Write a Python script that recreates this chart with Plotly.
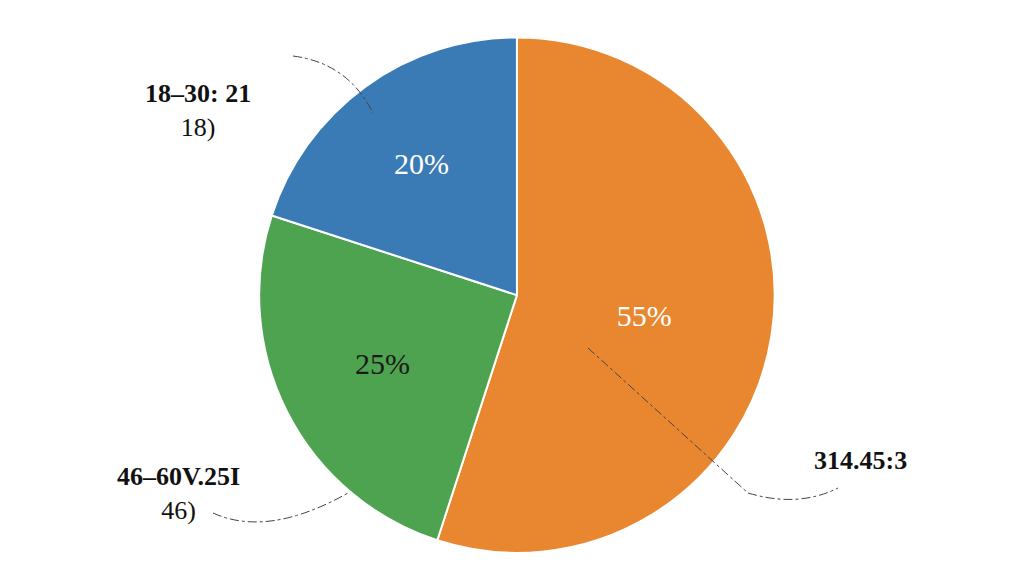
import plotly.graph_objects as go

groups = ["31–45", "46–60", "18–30"]
shares = [55, 25, 20]
colors = ["#E8872F", "#4DA34F", "#3B7BB5"]
text_colors = ["white", "#1a1a1a", "white"]

callouts = [
    ("<b>18–30: 21</b><br>18)", 190, 102, "M 285 48 Q 340 55 365 105"),
    ("<b>46–60V.25I</b><br>46)", 170, 485, "M 205 505 Q 260 530 340 485"),
    ("<b>314.45:3</b>", 852, 452, "M 580 340 L 740 485 Q 790 500 830 480"),
]

fig = go.Figure(go.Pie(
    labels=groups, values=shares, sort=False, direction="clockwise", rotation=0,
    marker=dict(colors=colors, line=dict(color="white", width=2)),
    texttemplate="%{percent:.0%}", textposition="inside",
    insidetextfont=dict(family="Liberation Serif", size=30, color=text_colors),
    showlegend=False, domain=dict(x=[0.245, 0.749], y=[0.054, 0.949]),
))

for text, x, y, path in callouts:
    fig.add_annotation(text=text, x=x, y=y, xref="x", yref="y", showarrow=False,
                       font=dict(family="Liberation Serif", size=26, color="#111"), align="center")
    fig.add_shape(type="path", path=path, xref="x", yref="y",
                  line=dict(color="#444", width=1, dash="dashdot"))

fig.update_layout(
    width=1024, height=576, margin=dict(l=0, r=0, t=0, b=0),
    paper_bgcolor="white", plot_bgcolor="rgba(0,0,0,0)",
    xaxis=dict(range=[0, 1024], visible=False, fixedrange=True),
    yaxis=dict(range=[576, 0], visible=False, fixedrange=True),
)
fig.write_html("out.html")
